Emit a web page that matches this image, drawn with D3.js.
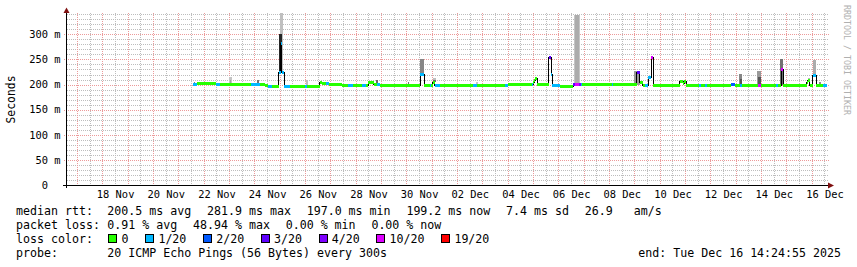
<!DOCTYPE html>
<html>
<head>
<meta charset="utf-8">
<script src="https://cdnjs.cloudflare.com/ajax/libs/d3/7.8.5/d3.min.js"></script>
<style>
body { margin:0; background:#fff; }
svg { display:block; font-family:"DejaVu Sans Mono", monospace; }
</style>
</head>
<body>
<svg width="857" height="267"></svg>
<script>
// graph window (30 days ending at the "end:" stamp)
var startTime = "2025-11-16 14:24:55";
var endTime = "2025-12-16 14:24:55";
var yMax = 342.5;
var yTicks = [0, 50, 100, 150, 200, 250, 300];

// loss colours as in the smokeping legend
var lossLabels = ["0", "1/20", "2/20", "3/20", "4/20", "10/20", "19/20"];
var lossColors = ["#26ff00", "#00b8ff", "#0059ff", "#5e00ff", "#7e00ff", "#dd00ff", "#ff0000"];

// median rtt (ms), step held until the next time; loss = index in lossLabels
var medianTime = [
 "2025-11-21 14:00","2025-11-21 18:00","2025-11-22 12:00","2025-11-22 15:00","2025-11-23 21:00",
 "2025-11-24 05:00","2025-11-24 10:00","2025-11-24 13:00","2025-11-24 17:00","2025-11-24 23:00",
 "2025-11-25 01:00","2025-11-25 02:00","2025-11-25 04:00","2025-11-25 10:00","2025-11-26 00:00",
 "2025-11-26 02:00","2025-11-26 14:00","2025-11-26 16:00","2025-11-26 20:00","2025-11-26 23:00",
 "2025-11-27 11:00","2025-11-27 17:00","2025-11-27 21:00","2025-11-28 06:00","2025-11-28 10:00",
 "2025-11-28 12:00","2025-11-28 17:00","2025-11-28 20:00","2025-11-28 23:00","2025-11-30 13:00",
 "2025-11-30 17:00","2025-11-30 22:00","2025-11-30 23:00","2025-12-01 01:00","2025-12-01 03:00",
 "2025-12-01 08:00","2025-12-02 15:00","2025-12-02 19:00","2025-12-03 21:00","2025-12-04 00:00",
 "2025-12-04 23:00","2025-12-05 00:00","2025-12-05 01:00","2025-12-05 02:00","2025-12-05 04:00",
 "2025-12-05 15:00","2025-12-05 17:00","2025-12-05 18:00","2025-12-06 01:00","2025-12-06 14:00",
 "2025-12-06 16:00","2025-12-06 19:00","2025-12-06 21:00","2025-12-06 22:00","2025-12-08 03:00",
 "2025-12-08 04:00","2025-12-09 02:00","2025-12-09 05:00","2025-12-09 08:00","2025-12-09 10:00",
 "2025-12-09 13:00","2025-12-09 16:00","2025-12-09 18:00","2025-12-10 19:00","2025-12-10 22:00",
 "2025-12-10 23:00","2025-12-11 01:00","2025-12-11 13:00","2025-12-11 15:00","2025-12-11 19:00",
 "2025-12-11 21:00","2025-12-12 19:00","2025-12-12 23:00","2025-12-13 04:00","2025-12-13 06:00",
 "2025-12-13 21:00","2025-12-14 00:00","2025-12-14 14:00","2025-12-14 16:00","2025-12-14 19:00",
 "2025-12-14 21:00","2025-12-15 19:00","2025-12-15 20:00","2025-12-15 22:00","2025-12-16 01:00",
 "2025-12-16 04:00","2025-12-16 11:00"
];
var medianEnd = "2025-12-16 14:00";
var medianMs = [
 200.5,201.5,200.0,200.0,199.5, 201.0,199.0,197.0,197.0,225.0,
 281.9,225.0,197.0,197.0,197.0, 197.0,203.5,202.0,201.5,200.8,
 197.5,197.5,197.5,197.5,197.5, 203.5,200.0,199.5,198.3,220.0,
 198.3,198.3,198.3,205.0,198.3, 198.3,198.3,198.3,198.3,201.0,
 201.0,205.0,209.0,213.0,201.0, 254.0,221.0,198.0,197.0,199.5,
 199.5,199.5,199.5,199.2,199.2, 199.2,225.0,204.5,199.0,199.0,
 214.0,254.0,198.5,205.5,203.0, 205.5,198.3,198.3,198.3,198.3,
 198.3,200.5,198.3,198.3,198.3, 199.0,198.3,198.3,198.3,229.0,
 198.8,204.0,209.0,198.8,219.0, 198.8,198.8
];
var medianLoss = [
 1,0,1,0,1, 0,0,1,0,1,
 1,1,1,0,1, 0,0,0,1,0,
 0,1,0,1,0, 0,0,1,0,1,
 0,1,0,0,1, 0,1,0,1,0,
 1,0,0,0,0, 3,1,1,0,3,
 5,4,1,0,1, 0,3,0,0,1,
 1,5,0,0,0, 0,0,1,0,1,
 0,2,0,1,0, 5,0,1,0,5,
 0,0,0,0,1, 0,1
];

// smoke: ping spread above the median (top in ms, density 0 light .. 1 dark)
var smokeTime = [
 "2025-11-21 15:00","2025-11-23 00:00","2025-11-23 01:00","2025-11-24 02:00","2025-11-25 00:00",
 "2025-11-24 23:00","2025-11-26 01:00","2025-11-28 19:00","2025-11-30 01:00","2025-11-30 13:00",
 "2025-11-30 13:00","2025-12-01 01:00","2025-12-01 01:00","2025-12-02 18:00","2025-12-05 15:00",
 "2025-12-06 15:00","2025-12-06 16:00","2025-12-09 00:00","2025-12-09 16:00","2025-12-13 03:00",
 "2025-12-13 04:00","2025-12-13 20:00","2025-12-13 21:00","2025-12-14 18:00","2025-12-14 21:00",
 "2025-12-15 20:00","2025-12-16 01:00","2025-12-16 07:00"
];
var smokeHours = [1,3,1,2,3, 3,2,2,1,4, 4,3,3,2,2, 5,3,5,2,3, 2,4,3,3,1, 2,3,2];
var smokeHi = [206,216,210,209,342, 300,209,210,206,251, 221,214,209,206,254, 339,339,228,254,221, 212,227,215,250,209, 214,249,206];
var smokeDensity = [0.5,0.12,0.3,0.55,0.15, 0.95,0.15,0.6,0.55,0.45, 0.75,0.15,0.6,0.12,0.95, 0.12,0.25,0.35,0.95,0.45, 0.7,0.35,0.7,0.55,0.5, 0.2,0.25,0.4];

// legend texts
var rttStats = ["200.5 ms avg", "281.9 ms max", "197.0 ms min", "199.2 ms now", "7.4 ms sd", "26.9   am/s"];
var lossStats = ["0.91 % avg", "48.94 % max", "0.00 % min", "0.00 % now"];
var probeText = "20 ICMP Echo Pings (56 Bytes) every 300s";
var endText = "end: Tue Dec 16 14:24:55 2025";

var svg = d3.select("svg");
var parseFull = d3.timeParse("%Y-%m-%d %H:%M:%S");
var parse = d3.timeParse("%Y-%m-%d %H:%M");
var plot = {left: 67, right: 827, top: 13, bottom: 185};
// keep runs of spaces in svg text
var keepSpaces = function(s) { return s.replace(/ /g, "\u00a0"); };

var x = d3.scaleTime()
    .domain([parseFull(startTime), parseFull(endTime)])
    .range([plot.left, plot.right]);
var y = d3.scaleLinear().domain([0, yMax]).range([plot.bottom, plot.top]);
var px = function(v) { return Math.round(v) + 0.5; };

// grid
var grid = svg.append("g").attr("shape-rendering", "crispEdges")
    .attr("stroke-dasharray", "1,1").attr("stroke-width", 1);
y.ticks(34).filter(function(v) { return v > 0 && v % 50 != 0; }).forEach(function(v) {
    grid.append("line").attr("x1", plot.left).attr("x2", plot.right + 1)
        .attr("y1", px(y(v))).attr("y2", px(y(v))).attr("stroke", "#bdbdbd");
});
var halfDays = d3.timeHour.every(12).range(x.domain()[0], x.domain()[1]);
halfDays.filter(function(d) { return d.getHours() == 12; }).forEach(function(d) {
    grid.append("line").attr("x1", px(x(d))).attr("x2", px(x(d)))
        .attr("y1", plot.top).attr("y2", plot.bottom).attr("stroke", "#bdbdbd");
});
yTicks.filter(function(v) { return v > 0; }).forEach(function(v) {
    grid.append("line").attr("x1", plot.left - 3).attr("x2", plot.right + 2)
        .attr("y1", px(y(v))).attr("y2", px(y(v))).attr("stroke", "#ec9a9a");
});
d3.timeDay.range(x.domain()[0], x.domain()[1]).forEach(function(d) {
    grid.append("line").attr("x1", px(x(d))).attr("x2", px(x(d)))
        .attr("y1", plot.top).attr("y2", plot.bottom + 2).attr("stroke", "#ec9a9a");
});

// median lookup for the smoke base
var mTimes = medianTime.map(parse);
var medianAt = function(t) {
    var i = Math.max(0, d3.bisectRight(mTimes, t) - 1);
    return medianMs[i];
};

svg.append("clipPath").attr("id", "plotclip").append("rect")
    .attr("x", plot.left).attr("y", plot.top)
    .attr("width", plot.right - plot.left).attr("height", plot.bottom - plot.top);

var smokeColor = d3.interpolateRgb("#dcdcdc", "#1c1c1c");
var smokeGrp = svg.append("g").attr("clip-path", "url(#plotclip)").attr("shape-rendering", "crispEdges");
smokeTime.forEach(function(s, i) {
    var t0 = parse(s);
    var t1 = d3.timeHour.offset(t0, smokeHours[i]);
    smokeGrp.append("rect")
        .attr("x", Math.round(x(t0)))
        .attr("width", Math.max(1, Math.round(x(t1)) - Math.round(x(t0))))
        .attr("y", Math.round(y(smokeHi[i])))
        .attr("height", Math.round(y(medianAt(t0))) - Math.round(y(smokeHi[i])))
        .attr("fill", smokeColor(smokeDensity[i]));
});

// median: black step line, loss-coloured band on top
var pts = mTimes.map(function(t, i) { return [x(t), y(medianMs[i])]; });
pts.push([x(parse(medianEnd)), y(medianMs[medianMs.length - 1])]);
svg.append("path")
    .attr("d", d3.line().curve(d3.curveStepAfter)(pts))
    .attr("fill", "none").attr("stroke", "#000").attr("stroke-width", 1)
    .attr("shape-rendering", "crispEdges");

var bandGrp = svg.append("g").attr("shape-rendering", "crispEdges");
mTimes.forEach(function(t, i) {
    var t1 = i < mTimes.length - 1 ? mTimes[i + 1] : parse(medianEnd);
    bandGrp.append("rect")
        .attr("x", x(t))
        .attr("width", x(t1) - x(t))
        .attr("y", y(medianMs[i]) - 1.5)
        .attr("height", 3)
        .attr("fill", lossColors[medianLoss[i]]);
});

// axes
svg.append("line").attr("x1", 66.5).attr("x2", 66.5).attr("y1", 188).attr("y2", 12)
    .attr("stroke", "#000").attr("shape-rendering", "crispEdges");
svg.append("line").attr("x1", 63).attr("x2", 829).attr("y1", 185.5).attr("y2", 185.5)
    .attr("stroke", "#000").attr("shape-rendering", "crispEdges");
svg.append("path").attr("d", "M63.5,13L69.5,13L66.5,7.5Z").attr("fill", "#7f1010");
svg.append("path").attr("d", "M828,182.5L828,188.5L834,185.5Z").attr("fill", "#7f1010");

var yAxis = svg.append("g").attr("transform", "translate(66.5,0)")
    .call(d3.axisLeft(y).tickValues(yTicks).tickSize(0).tickPadding(6)
        .tickFormat(function(v) { return keepSpaces(v == 0 ? "0  " : v + " m"); }));
yAxis.select(".domain").remove();
yAxis.selectAll("text").attr("font-family", "DejaVu Sans Mono").attr("font-size", "10.4px").attr("fill", "#000");

var labelDays = d3.timeDay.range(x.domain()[0], x.domain()[1])
    .filter(function(d) { return d.getDate() % 2 == 0; })
    .map(function(d) { return d3.timeHour.offset(d, 12); });
var xAxis = svg.append("g").attr("transform", "translate(0,185.5)")
    .call(d3.axisBottom(x).tickValues(labelDays).tickSize(0).tickPadding(5)
        .tickFormat(d3.timeFormat("%d %b")));
xAxis.select(".domain").remove();
xAxis.selectAll("text").attr("font-family", "DejaVu Sans Mono").attr("font-size", "10.4px").attr("fill", "#000");

// titles
svg.append("text")
    .attr("transform", "translate(11,99.5) rotate(-90)")
    .attr("text-anchor", "middle").attr("dominant-baseline", "central")
    .attr("font-size", "11.4px")
    .text("Seconds");
svg.append("text")
    .attr("transform", "translate(846.5,60) rotate(90)")
    .attr("text-anchor", "middle").attr("dominant-baseline", "central")
    .attr("font-size", "8.3px").attr("fill", "#b0b0b0")
    .text("RRDTOOL / TOBI OETIKER");

// legend
var charW = 7.0;
var legend = svg.append("g").attr("font-size", (charW / 0.60205) + "px");
var rowY = [215, 229, 243, 257];
var itemX = 107.3, gap = 15.7;
[["median rtt:", rttStats], ["packet loss:", lossStats]].forEach(function(row, r) {
    legend.append("text").attr("x", 16).attr("y", rowY[r]).text(row[0]);
    var xx = itemX;
    row[1].forEach(function(s) {
        legend.append("text").attr("x", xx).attr("y", rowY[r]).text(keepSpaces(s));
        xx += s.length * charW + gap;
    });
});

legend.append("text").attr("x", 16).attr("y", rowY[2]).text("loss color:");
var bx = 108.3;
lossLabels.forEach(function(l, i) {
    legend.append("rect").attr("x", Math.round(bx) + 0.5).attr("y", 234.5)
        .attr("width", 8).attr("height", 8)
        .attr("fill", lossColors[i]).attr("stroke", "#000");
    legend.append("text").attr("x", bx + 13.3).attr("y", rowY[2]).text(l);
    bx += 13.3 + l.length * charW + 16.5;
});

legend.append("text").attr("x", 16).attr("y", rowY[3]).text("probe:");
legend.append("text").attr("x", itemX).attr("y", rowY[3]).text(probeText);
legend.append("text").attr("x", 841).attr("y", rowY[3]).attr("text-anchor", "end").text(endText);
</script>
</body>
</html>
